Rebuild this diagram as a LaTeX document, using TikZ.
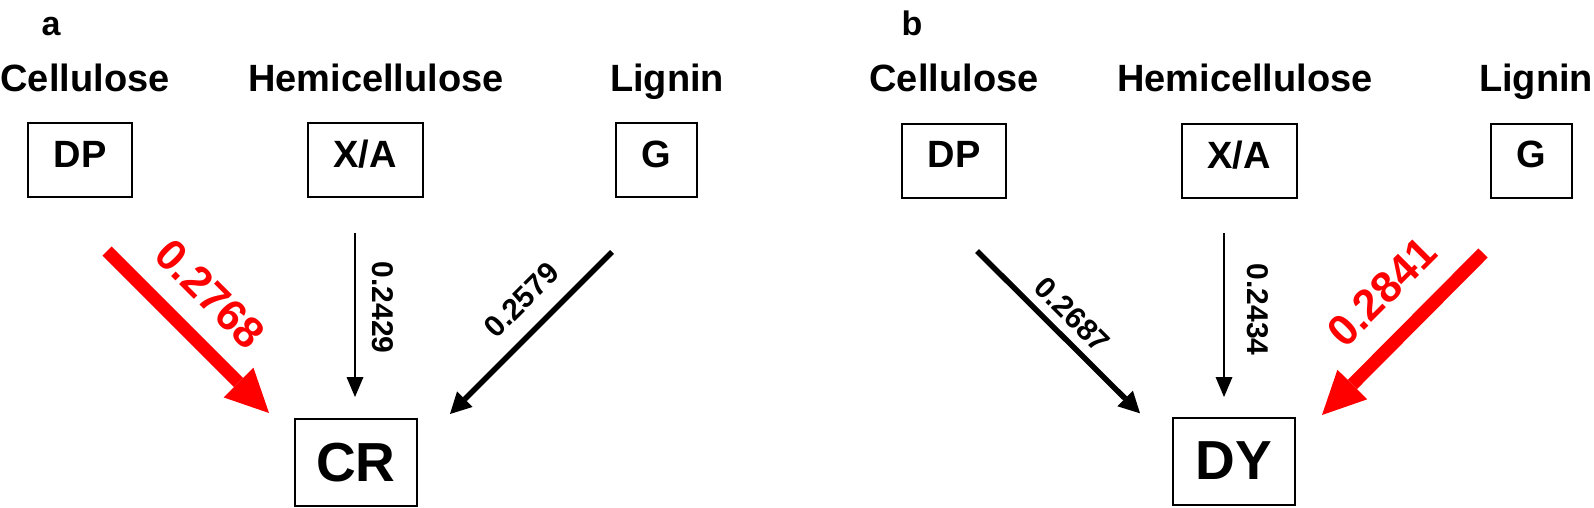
\documentclass[tikz,border=0pt]{standalone}
\usepackage{fontspec}
\setmainfont{Liberation Sans}
\usetikzlibrary{arrows.meta}
\begin{document}
\begin{tikzpicture}[x=1pt,y=1pt,
  box/.style={draw,line width=2pt,inner sep=0pt,minimum height=74pt,text depth=12pt,font=\fontsize{38}{40}\selectfont\bfseries},
  bigbox/.style={draw,line width=2pt,inner sep=0pt,minimum width=122pt,minimum height=87pt,font=\fontsize{55}{60}\selectfont\bfseries},
  toplab/.style={anchor=base,inner sep=0pt,font=\fontsize{38}{40}\selectfont\bfseries},
  panellab/.style={anchor=base,inner sep=0pt,font=\fontsize{34}{36}\selectfont\bfseries},
  num/.style={inner sep=0pt,font=\fontsize{30}{32}\selectfont\bfseries},
  rednum/.style={inner sep=0pt,text=red,font=\fontsize{43.5}{45}\selectfont\bfseries},
  thinarr/.style={line width=2pt,-{Triangle[length=20pt,width=17pt,line width=0pt]}},
  medarr/.style={line width=5.5pt,-{Triangle[length=21pt,width=22pt,line width=0pt]}},
  bigarr/.style={color=red,line width=13pt,-{Triangle[length=43pt,width=42pt,line width=0pt]}},
]
\useasboundingbox (0,0) rectangle (1594,-507);

% panel a
\node[panellab] (pa) at (51,-35) {a};
\node[toplab] (cela) at (85,-91) {Cellulose};
\node[toplab] (hema) at (376,-91) {Hemicellulose};
\node[toplab] (liga) at (667,-91) {Lignin};
\node[box,minimum width=104pt] (dpa) at (80,-160) {DP};
\node[box,minimum width=115pt] (xaa) at (365,-160) {X/A};
\node[box,minimum width=81pt] (ga) at (656.5,-160) {G};
\node[bigbox] (cr) at (356,-462.5) {CR};

\coordinate (a1s) at (107,-251);
\coordinate (a1e) at (269,-413);
\coordinate (a2s) at (355,-233);
\coordinate (a2e) at (355,-397);
\coordinate (a3s) at (612,-252);
\coordinate (a3e) at (450,-414);
\draw[bigarr] (a1s) -- (a1e);
\draw[thinarr] (a2s) -- (a2e);
\draw[medarr] (a3s) -- (a3e);
\node[rednum,rotate=-45] (na1) at (210,-294) {0.2768};
\node[num,rotate=-90] (na2) at (382.5,-307.5) {0.2429};
\node[num,rotate=45] (na3) at (521.5,-300) {0.2579};

% panel b
\node[panellab] (pb) at (912,-35) {b};
\node[toplab] (celb) at (954,-91) {Cellulose};
\node[toplab] (hemb) at (1245,-91) {Hemicellulose};
\node[toplab] (ligb) at (1536,-91) {Lignin};
\node[box,minimum width=104pt] (dpb) at (954,-160.5) {DP};
\node[box,minimum width=115pt] (xab) at (1239,-160.5) {X/A};
\node[box,minimum width=81pt] (gb) at (1531.5,-160.5) {G};
\node[bigbox] (dy) at (1233.5,-461) {DY};

\coordinate (b1s) at (977,-251);
\coordinate (b1e) at (1140,-413.3);
\coordinate (b2s) at (1224,-233);
\coordinate (b2e) at (1224,-397);
\coordinate (b3s) at (1483,-253);
\coordinate (b3e) at (1322,-415);
\draw[medarr] (b1s) -- (b1e);
\draw[thinarr] (b2s) -- (b2e);
\draw[bigarr] (b3s) -- (b3e);
\node[num,rotate=-45] (nb1) at (1072.5,-315) {0.2687};
\node[num,rotate=-90] (nb2) at (1258,-309.5) {0.2434};
\node[rednum,rotate=45] (nb3) at (1381.7,-291.7) {0.2841};
\end{tikzpicture}
\end{document}
